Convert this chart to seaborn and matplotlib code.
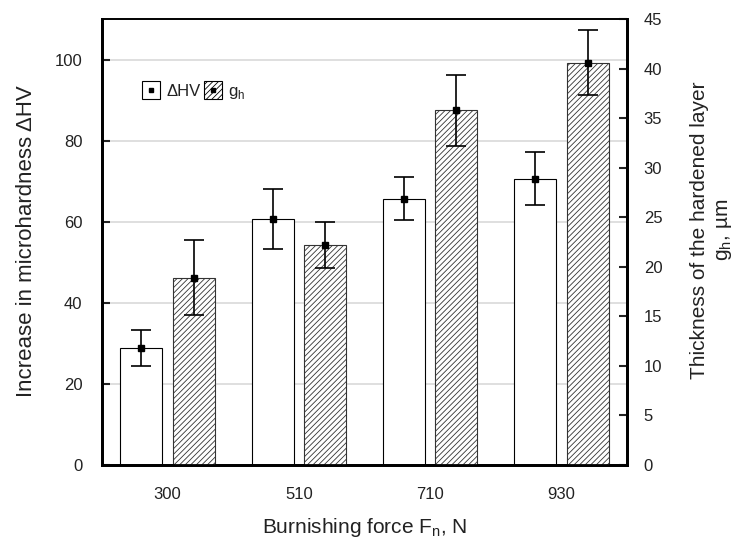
import numpy as np
import pandas as pd
import matplotlib
matplotlib.use("Agg")
import matplotlib.pyplot as plt
import seaborn as sns
from matplotlib.patches import Patch
from matplotlib.lines import Line2D
from matplotlib.legend_handler import HandlerBase
import matplotlib.patches as mpatches

forces = ["300", "510", "710", "930"]
dhv = [28.9, 60.7, 65.7, 70.6]
dhv_err = [4.5, 7.4, 5.3, 6.5]
gh = [18.9, 22.2, 35.8, 40.6]
gh_err = [3.8, 2.3, 3.6, 3.3]
series = ["ΔHV", "g$_\\mathregular{h}$"]

sns.set_theme(style="white")
plt.rcParams["font.family"] = ["Liberation Sans", "DejaVu Sans"]
plt.rcParams["hatch.linewidth"] = 0.6

df1 = pd.DataFrame({"force": forces, "val": dhv, "series": series[0]})
df2 = pd.DataFrame({"force": forces, "val": gh, "series": series[1]})

fig = plt.figure(figsize=(7.35, 5.42), dpi=100)
ax1 = fig.add_axes([102/735, 1-465/542, 525/735, 446/542])
ax2 = ax1.twinx()

for ax in (ax1, ax2):
    ax.set_facecolor("none")

sns.barplot(data=df1, x="force", y="val", hue="series", hue_order=series,
            order=forces, dodge=True, width=0.8, gap=0.2, ax=ax1,
            palette=["white", "white"], edgecolor="black", linewidth=0.8,
            legend=False, zorder=2)
sns.barplot(data=df2, x="force", y="val", hue="series", hue_order=series,
            order=forces, dodge=True, width=0.8, gap=0.2, ax=ax2,
            palette=["white", "white"], edgecolor="black", linewidth=0.8,
            legend=False, zorder=2)
for p in ax2.patches:
    p.set_hatch("//////")
    p.set_edgecolor("#333333")

x = np.arange(len(forces))
ax1.errorbar(x - 0.2, dhv, yerr=dhv_err, fmt="s", color="black", ms=5,
             capsize=7, elinewidth=1.2, capthick=1.2, zorder=5)
ax2.errorbar(x + 0.2, gh, yerr=gh_err, fmt="s", color="black", ms=5,
             capsize=7, elinewidth=1.2, capthick=1.2, zorder=5)

ax1.set_ylim(0, 110)
ax1.set_yticks([0, 20, 40, 60, 80, 100])
ax2.set_ylim(0, 45)
ax2.set_yticks(range(0, 50, 5))
ax1.set_xlim(-0.5, 3.5)

ax1.yaxis.grid(True, color="#d9d9d9", lw=1.2, zorder=0)
ax1.set_axisbelow(True)

ax1.tick_params(axis="both", direction="in", length=6, width=1.5,
                labelsize=12, pad=14, colors="#222222")
ax1.tick_params(axis="x", pad=16)
ax2.tick_params(axis="y", direction="in", length=6, width=1.5,
                labelsize=12, pad=12, colors="#222222")

ax1.set_xlabel("Burnishing force F$_\\mathregular{n}$, N", fontsize=15,
               labelpad=10, color="#222222")
ax1.set_ylabel("Increase in microhardness ΔHV", fontsize=16, color="#222222")
ax1.yaxis.label.set_va("center")
ax1.yaxis.set_label_coords(-0.143, 0.502)
ax2.set_ylabel("Thickness of the hardened layer\ng$_\\mathregular{h}$, µm",
               fontsize=15, linespacing=1.25, color="#222222")
ax2.yaxis.label.set_va("center")
ax2.yaxis.set_label_coords(1.162, 0.527)

for ax in (ax1, ax2):
    for s in ["left", "bottom", "right"]:
        ax.spines[s].set_linewidth(2.0)
        ax.spines[s].set_color("black")
    ax.spines["top"].set_linewidth(1.2)
    ax.spines["top"].set_color("black")
    ax.spines["top"].set_visible(True)


class BoxDot(HandlerBase):
    def __init__(self, hatch=None):
        super().__init__()
        self.hatch = hatch

    def create_artists(self, legend, orig_handle, xd, yd, w, h, fs, trans):
        s = 13
        cx, cy = xd + w / 2, yd + h / 2
        r = mpatches.Rectangle((cx - s / 2, cy - s / 2), s, s,
                               facecolor="white", edgecolor="black", lw=0.8,
                               hatch=self.hatch, transform=trans)
        d = Line2D([cx], [cy], marker="s", ms=3, color="black", transform=trans)
        return [r, d]


h1 = Patch(label=series[0])
h2 = Patch(label=series[1])
ax1.legend([h1, h2], series, handler_map={h1: BoxDot(), h2: BoxDot("//////")},
           ncol=2, frameon=False, loc="center left", bbox_to_anchor=(0.08, 0.836),
           borderaxespad=0, borderpad=0, fontsize=12, handlelength=0.85,
           handletextpad=0.5, columnspacing=0.3, labelcolor="#222222")

fig.savefig("out.png", dpi=100)
